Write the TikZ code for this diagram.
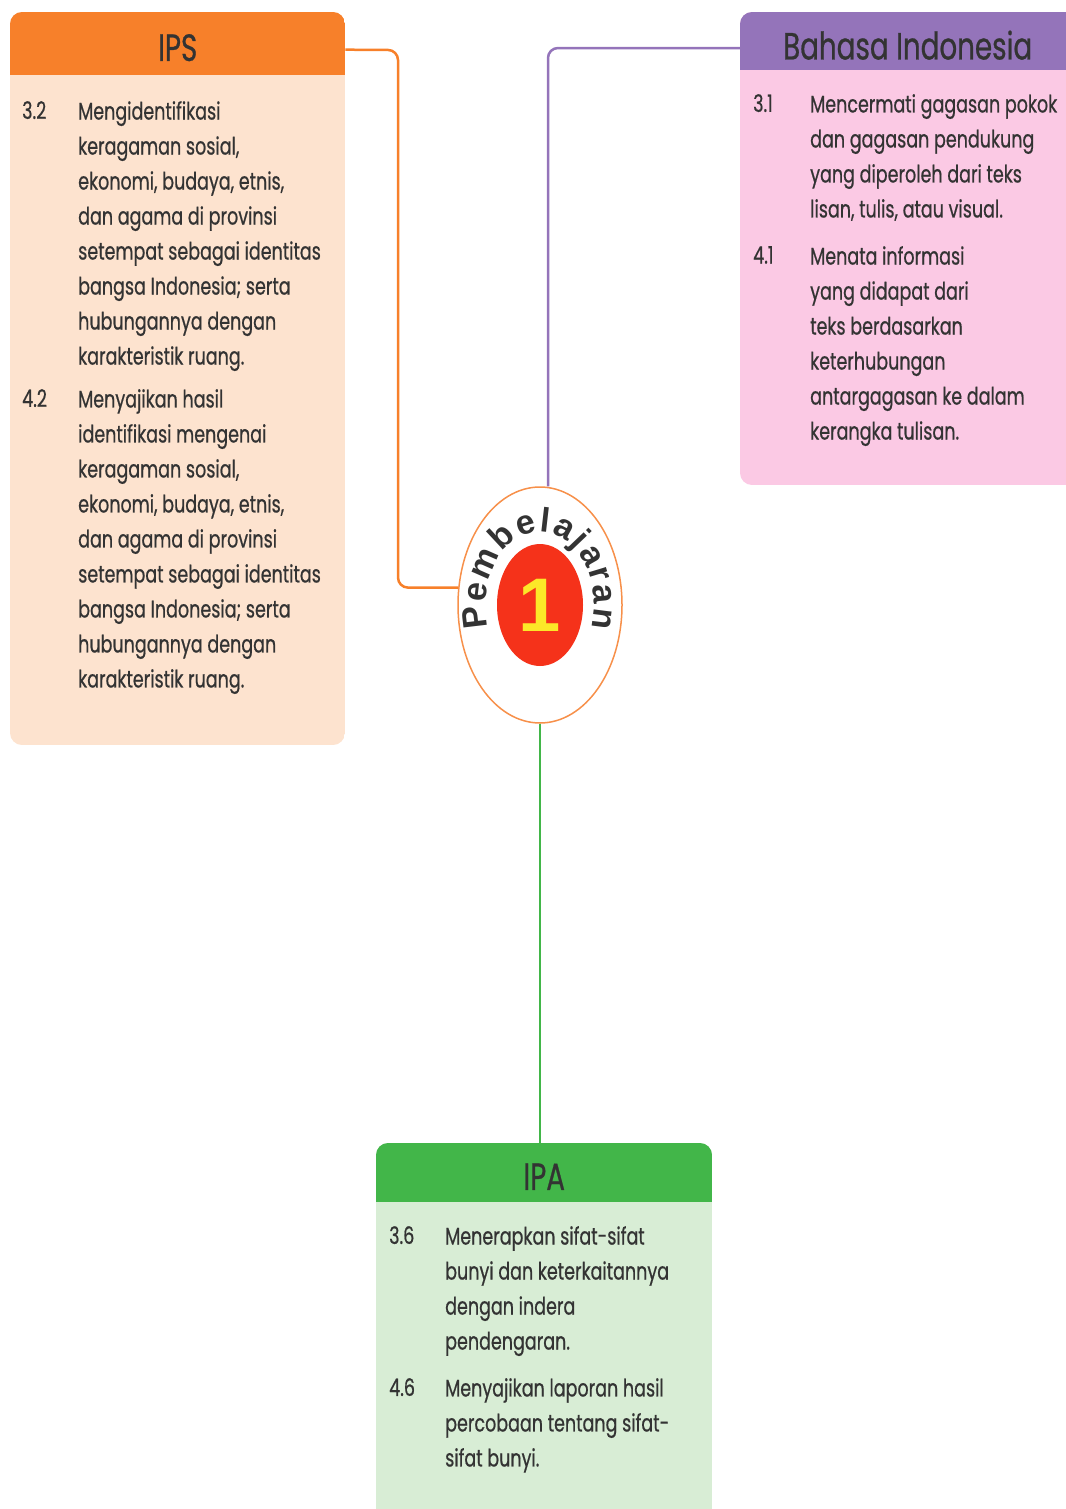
\documentclass[tikz,border=0pt]{standalone}
\usepackage{fontspec}
\setmainfont{Poppins}[FakeStretch=0.73, FakeBold=0.6]
\newfontfamily\busur{Liberation Sans}
\usepackage{xcolor}
\definecolor{ipsoranye}{RGB}{247,128,42}
\definecolor{ipsbg}{RGB}{253,227,207}
\definecolor{binungu}{RGB}{148,116,186}
\definecolor{binbg}{RGB}{251,201,228}
\definecolor{ipahijau}{RGB}{66,182,73}
\definecolor{ipabg}{RGB}{216,237,213}
\definecolor{merah}{RGB}{245,50,26}
\definecolor{kuning}{RGB}{252,232,40}
\definecolor{teks}{RGB}{51,51,51}
\definecolor{garis}{RGB}{247,144,74}
\usetikzlibrary{shapes.geometric, decorations.text, positioning}
\newcommand{\turun}[1]{\raisebox{-4pt}[\height][\depth]{#1}}

\tikzset{
  kepala/.style={font=\fontsize{38}{40}\selectfont, text=teks, inner sep=0pt, anchor=north west},
  nomor/.style={font=\fontsize{24}{35}\selectfont, text=teks, inner sep=0pt, anchor=north west},
  isi/.style={font=\fontsize{24}{35}\selectfont, text=teks, inner sep=0pt, anchor=north west, align=left},
}

\begin{document}
\begin{tikzpicture}[x=1pt, y=1pt]
  \useasboundingbox (0,0) rectangle (1065,-1509);
  % IPS box
  \begin{scope}
    \clip[rounded corners=12pt] (10,-12) rectangle (345,-745);
    \fill[ipsbg] (10,-12) rectangle (345,-745);
    \node[kepala, fill=ipsoranye, minimum width=335pt, minimum height=63pt] (ips) at (10,-12) {\turun{IPS}};
  \end{scope}
  \node[nomor] (ips32n) at (22,-101) {3.2};
  \node[isi] (ips32) at (78,-101) {Mengidentifikasi\\keragaman sosial,\\ekonomi, budaya, etnis,\\dan agama di provinsi\\setempat sebagai identitas\\bangsa Indonesia; serta\\hubungannya dengan\\karakteristik ruang.};
  \node[nomor] (ips42n) at (22,-389) {4.2};
  \node[isi] (ips42) at (78,-389) {Menyajikan hasil\\identifikasi mengenai\\keragaman sosial,\\ekonomi, budaya, etnis,\\dan agama di provinsi\\setempat sebagai identitas\\bangsa Indonesia; serta\\hubungannya dengan\\karakteristik ruang.};
  % Bahasa Indonesia box
  \begin{scope}
    \clip[rounded corners=12pt] (740,-12) rectangle (1085,-485);
    \fill[binbg] (740,-12) rectangle (1085,-485);
    \node[kepala, fill=binungu, minimum width=335pt, minimum height=58pt] (bin) at (740,-12) {\turun{Bahasa Indonesia}};
  \end{scope}
  \node[nomor] (bin31n) at (753,-94) {3.1};
  \node[isi] (bin31) at (810,-94) {Mencermati gagasan pokok\\dan gagasan pendukung\\yang diperoleh dari teks\\lisan, tulis, atau visual.};
  \node[nomor] (bin41n) at (753,-246) {4.1};
  \node[isi] (bin41) at (810,-246) {Menata informasi\\yang didapat dari\\teks berdasarkan\\keterhubungan\\antargagasan ke dalam\\kerangka tulisan.};
  % IPA box
  \begin{scope}
    \clip[rounded corners=12pt] (376,-1143) rectangle (712,-1530);
    \fill[ipabg] (376,-1143) rectangle (712,-1530);
    \node[kepala, fill=ipahijau, minimum width=336pt, minimum height=59pt] (ipa) at (376,-1143) {\turun{IPA}};
  \end{scope}
  \node[nomor] (ipa36n) at (389,-1226) {3.6};
  \node[isi] (ipa36) at (445,-1226) {Menerapkan sifat-sifat\\bunyi dan keterkaitannya\\dengan indera\\pendengaran.};
  \node[nomor] (ipa46n) at (389,-1378) {4.6};
  \node[isi] (ipa46) at (445,-1378) {Menyajikan laporan hasil\\percobaan tentang sifat-\\sifat bunyi.};
  % Pembelajaran 1
  \node[ellipse, draw=garis, line width=1.5pt, fill=white, minimum width=164pt, minimum height=236pt, inner sep=0pt] (pusat) at (540,-605) {};
  \node[ellipse, fill=merah, minimum width=86pt, minimum height=122pt, inner sep=0pt, font=\busur\bfseries\fontsize{76}{76}\selectfont, text=kuning] (angka) at (pusat.center) {1};
  \path[decorate, decoration={text along path, text align={fit to path}, text color=teks,
      text={|\busur\bfseries\fontsize{34}{34}\selectfont|Pembelajaran}}]
    (pusat.center) ++(198:54 and 73) arc[start angle=198, end angle=-18, x radius=54, y radius=73];
  % connectors
  \coordinate (belokips) at (398,-50);
  \coordinate (belokbin) at (548,-48);
  \draw[ipsoranye, line width=2.5pt, rounded corners=10pt] ([yshift=-6pt]ips.east) -- (belokips) |- (pusat.168);
  \draw[binungu, line width=2.5pt, rounded corners=10pt] ([yshift=-7pt]bin.west) -- (belokbin) -- (belokbin |- pusat.north);
  \draw[ipahijau, line width=1.5pt] (pusat.south) -- (pusat.south |- ipa.north);
\end{tikzpicture}
\end{document}
